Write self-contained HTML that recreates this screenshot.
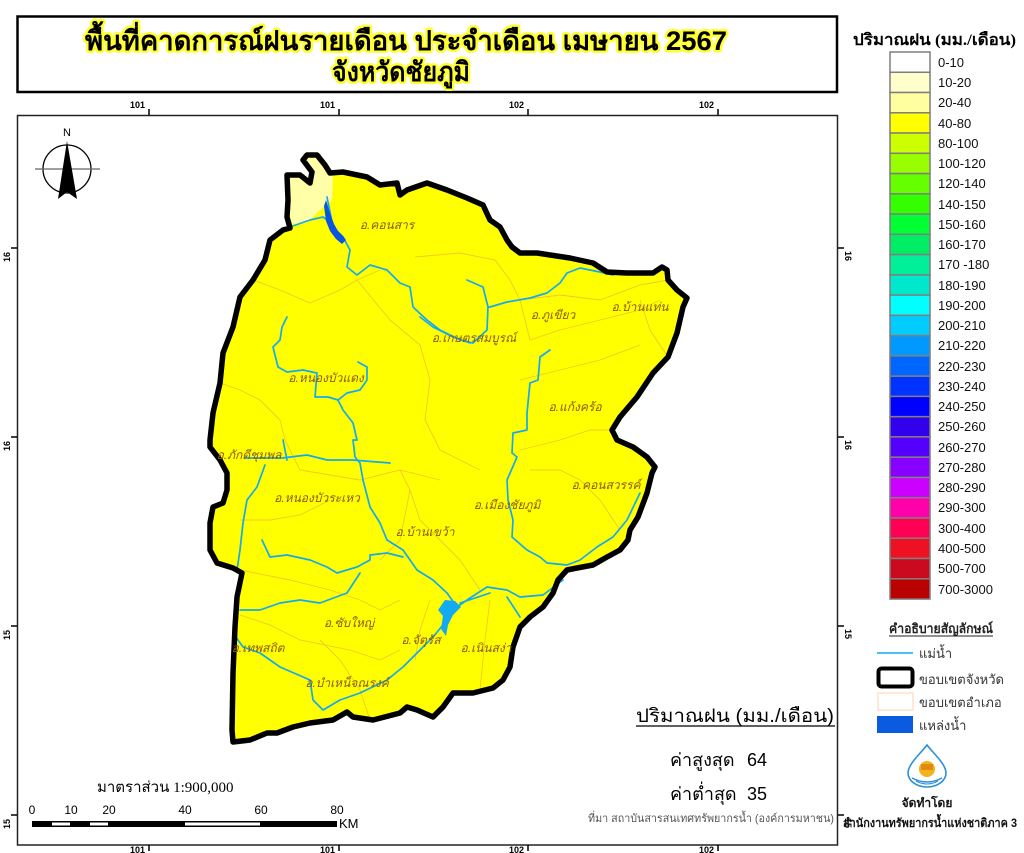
<!DOCTYPE html>
<html>
<head>
<meta charset="utf-8">
<style>
  html,body{margin:0;padding:0;background:#fff;}
  svg{display:block;}
  .th{font-family:"Liberation Sans","DejaVu Sans","Noto Sans CJK SC",sans-serif;}
  .sr{font-family:"Liberation Serif","DejaVu Serif",serif;}
  .ar{font-family:"Liberation Sans","DejaVu Sans",sans-serif;}
  .dist{font-family:"Liberation Sans","DejaVu Sans",sans-serif;font-style:italic;font-size:12px;fill:#8a5a14;}
  .leg{font-family:"Liberation Sans","DejaVu Sans",sans-serif;font-size:13px;fill:#111;}
</style>
</head>
<body>
<svg width="1024" height="853" viewBox="0 0 1024 853" xmlns="http://www.w3.org/2000/svg">
  <defs>
    <path id="prov" d="M287,217 L288,200 L287,175 L300,175 L310,183 L312,172 L303,160 L307,155 L317,155 L325,165 L330,173 L343,172 L367,177 L380,185 L397,183 L400,195 L407,190 L427,183 L447,190 L467,198 L483,205 L490,220 L500,227 L507,240 L512,247 L520,253 L537,253 L570,258 L593,263 L607,272 L627,273 L653,273 L662,267 L667,270 L668,280 L677,290 L687,298 L683,307 L677,333 L668,357 L653,373 L637,397 L620,417 L612,430 L617,440 L633,447 L647,457 L655,467 L652,473 L647,493 L638,517 L630,530 L628,540 L620,550 L607,557 L593,565 L577,568 L567,570 L558,580 L553,593 L543,607 L530,617 L520,627 L513,647 L510,667 L503,680 L493,688 L473,693 L453,693 L443,707 L433,717 L417,710 L407,707 L400,713 L373,720 L353,717 L347,712 L333,720 L310,723 L293,727 L277,733 L267,733 L250,740 L233,742 L232,730 L233,673 L235,627 L237,597 L242,573 L233,568 L217,563 L210,550 L210,523 L213,507 L223,503 L227,490 L227,473 L220,460 L210,447 L210,440 L213,413 L220,383 L223,353 L233,327 L240,297 L253,280 L265,260 L270,240 L283,230 L290,228 Z"/>
  </defs>
  <rect x="0" y="0" width="1024" height="853" fill="#fff"/>

  <!-- Title box -->
  <rect x="17.5" y="16.5" width="819.5" height="75.5" fill="#fff" stroke="#000" stroke-width="2.5"/>
  <text class="th" x="406" y="50" text-anchor="middle" font-size="27" font-weight="bold" fill="#000" stroke="#ffff33" stroke-width="5" paint-order="stroke" stroke-linejoin="round" textLength="642" lengthAdjust="spacingAndGlyphs">พื้นที่คาดการณ์ฝนรายเดือน ประจำเดือน เมษายน 2567</text>
  <text class="th" x="401" y="81" text-anchor="middle" font-size="27" font-weight="bold" fill="#000" stroke="#ffff33" stroke-width="5" paint-order="stroke" stroke-linejoin="round" textLength="138" lengthAdjust="spacingAndGlyphs">จังหวัดชัยภูมิ</text>

  <!-- Map frame -->
  <rect x="17.5" y="115.5" width="820" height="729.5" fill="#fff" stroke="#222" stroke-width="1.5"/>

  <!-- Ticks -->
  <g stroke="#000" stroke-width="1.5">
    <line x1="149" y1="109" x2="149" y2="115"/>
    <line x1="339" y1="109" x2="339" y2="115"/>
    <line x1="528" y1="109" x2="528" y2="115"/>
    <line x1="718" y1="109" x2="718" y2="115"/>
    <line x1="149" y1="845" x2="149" y2="851"/>
    <line x1="339" y1="845" x2="339" y2="851"/>
    <line x1="528" y1="845" x2="528" y2="851"/>
    <line x1="718" y1="845" x2="718" y2="851"/>
    <line x1="11" y1="248" x2="17" y2="248"/>
    <line x1="11" y1="437" x2="17" y2="437"/>
    <line x1="11" y1="626" x2="17" y2="626"/>
    <line x1="11" y1="815" x2="17" y2="815"/>
    <line x1="838" y1="248" x2="844" y2="248"/>
    <line x1="838" y1="437" x2="844" y2="437"/>
    <line x1="838" y1="626" x2="844" y2="626"/>
    <line x1="838" y1="815" x2="844" y2="815"/>
  </g>
  <g class="ar" font-size="9" font-weight="bold" fill="#000">
    <text x="145" y="108" text-anchor="end">101</text>
    <text x="335" y="108" text-anchor="end">101</text>
    <text x="524" y="108" text-anchor="end">102</text>
    <text x="714" y="108" text-anchor="end">102</text>
    <text x="145" y="853" text-anchor="end">101</text>
    <text x="335" y="853" text-anchor="end">101</text>
    <text x="524" y="853" text-anchor="end">102</text>
    <text x="714" y="853" text-anchor="end">102</text>
    <text transform="translate(10,252) rotate(-90)" text-anchor="end">16</text>
    <text transform="translate(10,441) rotate(-90)" text-anchor="end">16</text>
    <text transform="translate(10,630) rotate(-90)" text-anchor="end">15</text>
    <text transform="translate(10,819) rotate(-90)" text-anchor="end">15</text>
    <text transform="translate(845,251) rotate(90)" text-anchor="start">16</text>
    <text transform="translate(845,440) rotate(90)" text-anchor="start">16</text>
    <text transform="translate(845,629) rotate(90)" text-anchor="start">15</text>
    <text transform="translate(845,818) rotate(90)" text-anchor="start">15</text>
  </g>

  <!-- North arrow -->
  <circle cx="67" cy="169" r="24" fill="none" stroke="#000" stroke-width="1.3"/>
  <line x1="35" y1="169" x2="100" y2="169" stroke="#666" stroke-width="1.2"/>
  <polygon points="67,141 77,199 67,192 58,199" fill="#000"/>
  <text class="ar" x="67" y="136" text-anchor="middle" font-size="11" fill="#000">N</text>

  <!-- Province fill -->
  <use href="#prov" fill="#ffff00"/>
  <!-- light yellow NW area -->
  <polygon points="287,175 300,175 310,183 312,172 303,160 307,155 317,155 325,165 330,173 333,174 332,200 320,210 310,220 306,223 290,224 288,217 288,200" fill="#ffffa8"/>

  <!-- District boundaries -->
  <g fill="none" stroke="#e8b838" stroke-width="0.9" opacity="0.75">
    <polyline points="253,280 280,290 310,303 340,290 357,280 380,270"/>
    <polyline points="357,280 390,320 420,345 430,380 425,420 440,450 480,470"/>
    <polyline points="415,257 460,253 495,260 510,280 520,300 530,340"/>
    <polyline points="520,300 560,295 600,300 640,285 668,280"/>
    <polyline points="640,300 650,330 668,357"/>
    <polyline points="530,340 560,330 600,320 640,310 660,300"/>
    <polyline points="520,380 560,370 600,360 640,345"/>
    <polyline points="520,450 560,440 590,430 612,430"/>
    <polyline points="530,470 560,470 580,480 600,500 620,530"/>
    <polyline points="220,383 240,390 260,400 280,420 285,440 300,470 330,475 360,480 400,470 440,480"/>
    <polyline points="240,520 270,520 300,515 330,500"/>
    <polyline points="240,570 290,580 330,590 360,600 380,610 400,600"/>
    <polyline points="410,490 420,520 440,540 460,560 480,590"/>
    <polyline points="240,615 270,625 300,640 350,650 380,660 400,650"/>
    <polyline points="320,640 340,660 360,690 370,720"/>
    <polyline points="430,600 420,630 415,660"/>
    <polyline points="490,600 485,640 480,690"/>
    <polyline points="400,470 410,490 400,540 380,560"/>
  </g>

  <!-- Rivers -->
  <g fill="none" stroke="#12aaf0" stroke-width="1.7" stroke-linejoin="round" stroke-linecap="round">
    <polyline points="327,197 333,227 343,237 350,250 347,267 357,275 370,265 387,270 400,283 410,287 413,307 427,320 440,330 460,340 473,343 487,330 488,307 483,287 467,280"/>
    <polyline points="290,227 310,220 323,217 330,222"/>
    <polyline points="488,307 490,307 507,302 530,298 547,293 560,283 567,273 580,268 600,272 613,275"/>
    <polyline points="420,317 433,327 453,337 470,343"/>
    <polyline points="550,350 540,357 538,380 530,383 527,413 527,430 513,433 512,453 517,457 507,480 508,500 513,520 512,537 527,550 540,557 547,563 567,565 580,560 597,547 613,537 627,520 640,493"/>
    <polyline points="287,317 282,327 280,340 273,347 278,367 287,372 303,370 317,373 315,397 328,397 338,400 347,393 360,390 367,380 367,367 358,362"/>
    <polyline points="338,400 343,410 353,423 357,440 353,440 355,457 360,463 363,480 370,507 380,523 387,540 403,550 417,570 433,580 447,593 457,607"/>
    <polyline points="457,607 447,620 433,637 420,650 403,667 387,680 360,693 340,700 323,710 313,700 310,680 280,667 260,653 243,647 233,633"/>
    <polyline points="265,465 257,487 247,500 243,523 240,550 237,570"/>
    <polyline points="245,458 282,458 307,455 327,460 353,460 390,463"/>
    <polyline points="283,440 287,460"/>
    <polyline points="262,540 270,557 287,555 310,560 327,567 337,573 357,567 370,560 370,555 387,553 403,557"/>
    <polyline points="360,573 347,593 320,603 300,600 280,603 260,610 240,610"/>
    <polyline points="457,607 470,598 487,587 507,590 520,597 543,595 563,580"/>
    <polyline points="490,593 460,603"/>
    <polyline points="507,597 520,617"/>
  </g>
  <!-- reservoirs -->
  <polygon points="326,200 330,213 334,224 338,231 343,236 346,240 342,244 336,239 330,231 326,221 324,206" fill="#0a55e0"/>
  <polygon points="445,600 455,601 461,607 453,615 448,625 446,636 441,629 443,616 438,610" fill="#12aaf0"/>

  <!-- Province outline -->
  <use href="#prov" fill="none" stroke="#000" stroke-width="5.5" stroke-linejoin="round"/>

  <!-- District labels -->
  <g class="dist">
    <text x="387" y="229" text-anchor="middle">อ.คอนสาร</text>
    <text x="474" y="342" text-anchor="middle">อ.เกษตรสมบูรณ์</text>
    <text x="553" y="319" text-anchor="middle">อ.ภูเขียว</text>
    <text x="640" y="311" text-anchor="middle">อ.บ้านแท่น</text>
    <text x="326" y="382" text-anchor="middle">อ.หนองบัวแดง</text>
    <text x="575" y="411" text-anchor="middle">อ.แก้งคร้อ</text>
    <text x="249" y="459" text-anchor="middle">อ.ภักดีชุมพล</text>
    <text x="606" y="489" text-anchor="middle">อ.คอนสวรรค์</text>
    <text x="507" y="509" text-anchor="middle">อ.เมืองชัยภูมิ</text>
    <text x="317" y="502" text-anchor="middle">อ.หนองบัวระเหว</text>
    <text x="425" y="536" text-anchor="middle">อ.บ้านเขว้า</text>
    <text x="349" y="627" text-anchor="middle">อ.ซับใหญ่</text>
    <text x="421" y="644" text-anchor="middle">อ.จัตุรัส</text>
    <text x="486" y="652" text-anchor="middle">อ.เนินสง่า</text>
    <text x="258" y="652" text-anchor="middle">อ.เทพสถิต</text>
    <text x="347" y="687" text-anchor="middle">อ.บำเหน็จณรงค์</text>
  </g>

  <!-- Stats -->
  <text class="th" x="636" y="722" font-size="19" fill="#000" textLength="198" lengthAdjust="spacingAndGlyphs">ปริมาณฝน (มม./เดือน)</text>
  <line x1="636" y1="726" x2="835" y2="726" stroke="#000" stroke-width="1.3"/>
  <text class="th" x="670" y="766" font-size="18" fill="#000">ค่าสูงสุด</text>
  <text class="th" x="747" y="766" font-size="18" fill="#000">64</text>
  <text class="th" x="670" y="800" font-size="18" fill="#000">ค่าต่ำสุด</text>
  <text class="th" x="747" y="800" font-size="18" fill="#000">35</text>
  <text class="th" x="588" y="822" font-size="11" fill="#555" textLength="246" lengthAdjust="spacingAndGlyphs">ที่มา  สถาบันสารสนเทศทรัพยากรน้ำ (องค์การมหาชน)</text>

  <!-- Scale -->
  <text class="sr" x="97" y="792" font-size="15" fill="#000">มาตราส่วน 1:900,000</text>
  <rect x="32" y="821" width="305" height="6" fill="#000"/>
  <rect x="52" y="822.5" width="18" height="3" fill="#fff"/>
  <rect x="90" y="822.5" width="18" height="3" fill="#fff"/>
  <rect x="185" y="822.5" width="75" height="3" fill="#fff"/>
  <g class="ar" font-size="12" fill="#000" text-anchor="middle">
    <text x="32" y="814">0</text>
    <text x="71" y="814">10</text>
    <text x="109" y="814">20</text>
    <text x="185" y="814">40</text>
    <text x="261" y="814">60</text>
    <text x="337" y="814">80</text>
  </g>
  <text class="ar" x="339" y="828" font-size="13" fill="#000">KM</text>

  <!-- Legend -->
  <text class="sr" x="853" y="45" font-size="16" font-weight="bold" fill="#000" textLength="163" lengthAdjust="spacingAndGlyphs">ปริมาณฝน (มม./เดือน)</text>
  <g stroke="#7f7f7f" stroke-width="1.5">
    <rect x="890" y="52.0" width="40" height="20.26" fill="#ffffff"/>
    <rect x="890" y="72.3" width="40" height="20.26" fill="#ffffcc"/>
    <rect x="890" y="92.5" width="40" height="20.26" fill="#ffffa0"/>
    <rect x="890" y="112.8" width="40" height="20.26" fill="#ffff00"/>
    <rect x="890" y="133.0" width="40" height="20.26" fill="#ccff00"/>
    <rect x="890" y="153.3" width="40" height="20.26" fill="#99ff00"/>
    <rect x="890" y="173.6" width="40" height="20.26" fill="#66ff00"/>
    <rect x="890" y="193.8" width="40" height="20.26" fill="#33ff00"/>
    <rect x="890" y="214.1" width="40" height="20.26" fill="#00ff33"/>
    <rect x="890" y="234.3" width="40" height="20.26" fill="#00ee66"/>
    <rect x="890" y="254.6" width="40" height="20.26" fill="#00f09a"/>
    <rect x="890" y="274.9" width="40" height="20.26" fill="#00e8cc"/>
    <rect x="890" y="295.1" width="40" height="20.26" fill="#00ffff"/>
    <rect x="890" y="315.4" width="40" height="20.26" fill="#00ccff"/>
    <rect x="890" y="335.6" width="40" height="20.26" fill="#0099ff"/>
    <rect x="890" y="355.9" width="40" height="20.26" fill="#0066ff"/>
    <rect x="890" y="376.2" width="40" height="20.26" fill="#0033ff"/>
    <rect x="890" y="396.4" width="40" height="20.26" fill="#0000ff"/>
    <rect x="890" y="416.7" width="40" height="20.26" fill="#3300ee"/>
    <rect x="890" y="436.9" width="40" height="20.26" fill="#5500ff"/>
    <rect x="890" y="457.2" width="40" height="20.26" fill="#8800ff"/>
    <rect x="890" y="477.5" width="40" height="20.26" fill="#cc00ff"/>
    <rect x="890" y="497.7" width="40" height="20.26" fill="#ff00aa"/>
    <rect x="890" y="518.0" width="40" height="20.26" fill="#ff0055"/>
    <rect x="890" y="538.2" width="40" height="20.26" fill="#ee1122"/>
    <rect x="890" y="558.5" width="40" height="20.26" fill="#cc0a1f"/>
    <rect x="890" y="578.8" width="40" height="20.26" fill="#bb0000"/>
  </g>
  <g class="leg">
    <text x="938" y="67">0-10</text>
    <text x="938" y="87">10-20</text>
    <text x="938" y="107">20-40</text>
    <text x="938" y="128">40-80</text>
    <text x="938" y="148">80-100</text>
    <text x="938" y="168">100-120</text>
    <text x="938" y="188">120-140</text>
    <text x="938" y="209">140-150</text>
    <text x="938" y="229">150-160</text>
    <text x="938" y="249">160-170</text>
    <text x="938" y="269">170 -180</text>
    <text x="938" y="290">180-190</text>
    <text x="938" y="310">190-200</text>
    <text x="938" y="330">200-210</text>
    <text x="938" y="350">210-220</text>
    <text x="938" y="371">220-230</text>
    <text x="938" y="391">230-240</text>
    <text x="938" y="411">240-250</text>
    <text x="938" y="431">250-260</text>
    <text x="938" y="452">260-270</text>
    <text x="938" y="472">270-280</text>
    <text x="938" y="492">280-290</text>
    <text x="938" y="512">290-300</text>
    <text x="938" y="533">300-400</text>
    <text x="938" y="553">400-500</text>
    <text x="938" y="573">500-700</text>
    <text x="938" y="594">700-3000</text>
  </g>

  <!-- Symbol legend -->
  <text class="th" x="889" y="633" font-size="13" font-weight="bold" fill="#222" textLength="104" lengthAdjust="spacingAndGlyphs">คำอธิบายสัญลักษณ์</text>
  <line x1="889" y1="636" x2="993" y2="636" stroke="#222" stroke-width="1"/>
  <line x1="877" y1="653" x2="913" y2="653" stroke="#12aaf0" stroke-width="1.5"/>
  <text class="th" x="919" y="658" font-size="13" fill="#333">แม่น้ำ</text>
  <rect x="878.5" y="668.5" width="34" height="18" rx="3" fill="#fff" stroke="#000" stroke-width="4"/>
  <text class="th" x="919" y="684" font-size="13" fill="#333">ขอบเขตจังหวัด</text>
  <rect x="878" y="693" width="35" height="17" fill="#fff" stroke="#fde0cc" stroke-width="1.5"/>
  <text class="th" x="919" y="707" font-size="13" fill="#333">ขอบเขตอำเภอ</text>
  <rect x="877" y="716" width="36" height="17" fill="#0a5be0"/>
  <text class="th" x="919" y="730" font-size="13" fill="#333">แหล่งน้ำ</text>

  <!-- Logo -->
  <path d="M927,745 C933,753 946,764 946,773 A19,14 0 0 1 908,773 C908,764 921,753 927,745 Z" fill="#fff" stroke="#2a8fd8" stroke-width="1.6"/>
  <circle cx="927" cy="769" r="8" fill="#f2b31c"/>
  <rect x="921" y="764" width="12" height="6" fill="#e08a10"/>
  <path d="M912,778 Q927,786 942,778" fill="none" stroke="#2a8fd8" stroke-width="1.4"/>
  <path d="M916,781 Q927,787 938,781" fill="none" stroke="#2a8fd8" stroke-width="1"/>
  <text class="th" x="927" y="807" text-anchor="middle" font-size="12" font-weight="bold" fill="#111">จัดทำโดย</text>
  <text class="th" x="843" y="827" font-size="12" font-weight="bold" fill="#111" textLength="174" lengthAdjust="spacingAndGlyphs">สำนักงานทรัพยากรน้ำแห่งชาติภาค 3</text>
</svg>
</body>
</html>
